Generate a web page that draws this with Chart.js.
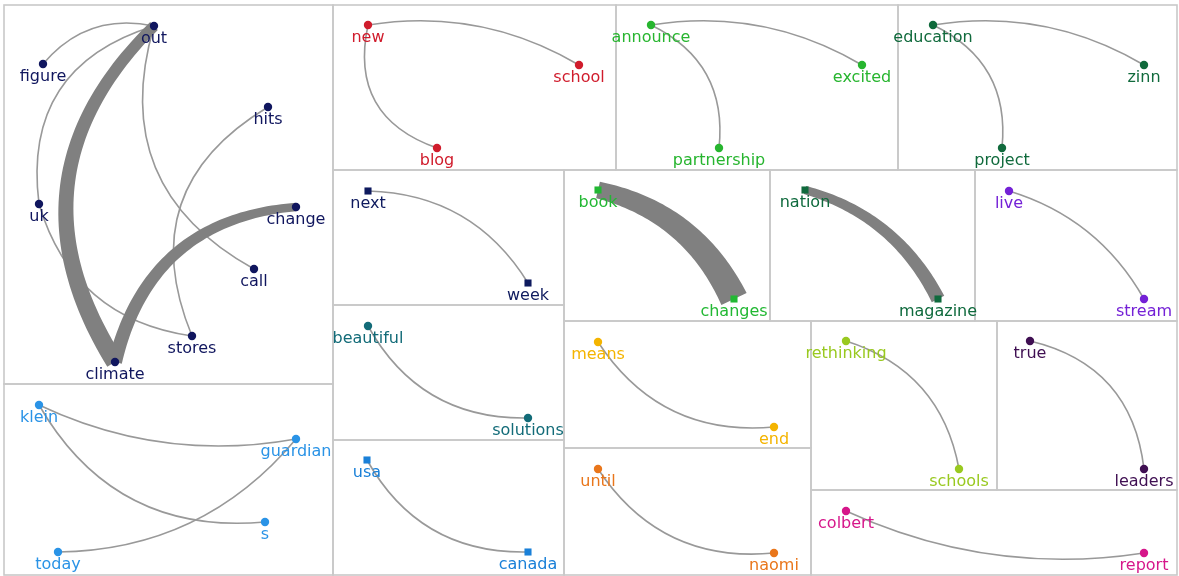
<!DOCTYPE html>
<html>
<head>
<meta charset="utf-8">
<script src="https://cdn.jsdelivr.net/npm/chart.js@4.4.0/dist/chart.umd.min.js"></script>
<style>
  html, body { margin: 0; padding: 0; background: #fff; overflow: hidden; }
  #wrap { width: 1179px; height: 576px; }
</style>
</head>
<body>
<div id="wrap"><canvas id="net" width="1179" height="576"></canvas></div>
<script>
// word co-occurrence clusters, one per panel
const groupNames = ["climate", "klein", "new", "announce", "education", "next", "book",
  "nation", "live", "beautiful", "usa", "means", "until", "rethinking", "true", "colbert"];

const nodeLabels = ["out", "figure", "hits", "uk", "change", "call", "stores", "climate",
  "klein", "guardian", "s", "today",
  "new", "school", "blog",
  "announce", "excited", "partnership",
  "education", "zinn", "project",
  "next", "week",
  "book", "changes",
  "nation", "magazine",
  "live", "stream",
  "beautiful", "solutions",
  "usa", "canada",
  "means", "end",
  "until", "naomi",
  "rethinking", "schools",
  "true", "leaders",
  "colbert", "report"];
const nodeGroup = [0, 0, 0, 0, 0, 0, 0, 0,
  1, 1, 1, 1,
  2, 2, 2,
  3, 3, 3,
  4, 4, 4,
  5, 5,
  6, 6,
  7, 7,
  8, 8,
  9, 9,
  10, 10,
  11, 11,
  12, 12,
  13, 13,
  14, 14,
  15, 15];
// layout position of each node
const nodeX = [154, 43, 268, 39, 296, 254, 192, 115,
  39, 296, 265, 58,
  368, 579, 437,
  651, 862, 719,
  933, 1144, 1002,
  368, 528,
  598, 734,
  805, 938,
  1009, 1144,
  368, 528,
  367, 528,
  598, 774,
  598, 774,
  846, 959,
  1030, 1144,
  846, 1144];
const nodeY = [26, 64, 107, 204, 207, 269, 336, 362,
  405, 439, 522, 552,
  25, 65, 148,
  25, 65, 148,
  25, 65, 148,
  191, 283,
  190, 299,
  190, 299,
  191, 299,
  326, 418,
  460, 552,
  342, 427,
  469, 553,
  341, 469,
  341, 469,
  511, 553];

const edgeSource = ["out", "out", "uk", "out", "hits", "out", "change",
  "klein", "klein", "today",
  "new", "new", "announce", "announce", "education", "education",
  "next", "book", "nation", "live", "beautiful", "usa",
  "means", "until", "rethinking", "true", "colbert"];
const edgeTarget = ["figure", "uk", "stores", "call", "stores", "climate", "climate",
  "guardian", "s", "guardian",
  "school", "blog", "excited", "partnership", "zinn", "project",
  "week", "changes", "magazine", "stream", "solutions", "canada",
  "end", "naomi", "schools", "leaders", "report"];
const edgeWeight = [1, 1, 1, 1, 1, 13, 10,
  1, 1, 1,
  1, 1, 1, 1, 1, 1,
  1, 20, 10, 1, 1, 1,
  1, 1, 1, 1, 1];
const edgeBend = [0.3, 0.42, 0.32, 0.4, 0.43, 0.4, 0.36,
  0.16, 0.32, 0.23,
  -0.18, 0.44, -0.18, -0.35, -0.18, -0.35,
  -0.27, -0.24, -0.22, -0.2, 0.3, 0.3,
  0.3, 0.3, -0.3, -0.35, 0.15];

// panel frames [x0, y0, x1, y1]
const panelBox = [
  [4, 5, 333, 384], [4, 384, 333, 575], [333, 5, 616, 170], [616, 5, 898, 170],
  [898, 5, 1177, 170], [333, 170, 564, 305], [564, 170, 770, 321], [770, 170, 975, 321],
  [975, 170, 1177, 321], [333, 305, 564, 440], [333, 440, 564, 575], [564, 321, 811, 448],
  [564, 448, 811, 575], [811, 321, 997, 490], [997, 321, 1177, 490], [811, 490, 1177, 575]
];

const groupColors = ["#10165e", "#2a93e6", "#d01c2c", "#27b52f", "#106a3c", "#0e1a5e",
  "#22b833", "#0f6a3d", "#7421d6", "#126b78", "#1a80d8", "#f4b400", "#e9761b",
  "#99c920", "#3f0f52", "#d6168a"];
const groupSquare = [false, false, false, false, false, true, true, true, false,
  false, true, false, false, false, false, false];

const datasets = groupNames.map((name, g) => {
  const pts = [];
  nodeLabels.forEach((lab, i) => {
    if (nodeGroup[i] === g) pts.push({ x: nodeX[i], y: nodeY[i], label: lab });
  });
  return {
    label: name,
    data: pts,
    pointStyle: groupSquare[g] ? "rect" : "circle",
    pointRadius: groupSquare[g] ? 5 : 4.2,
    backgroundColor: groupColors[g],
    borderColor: groupColors[g],
    borderWidth: 0,
    clip: false,
  };
});

const framePlugin = {
  id: "frames",
  beforeDatasetsDraw(chart) {
    const { ctx, scales: { x, y } } = chart;
    ctx.save();
    ctx.strokeStyle = "#c9c9c9";
    ctx.lineWidth = 1.6;
    panelBox.forEach((b) => {
      const x0 = x.getPixelForValue(b[0]), x1 = x.getPixelForValue(b[2]);
      const y0 = y.getPixelForValue(b[1]), y1 = y.getPixelForValue(b[3]);
      ctx.strokeRect(x0, y0, x1 - x0, y1 - y0);
    });
    ctx.restore();
  },
};

const edgePlugin = {
  id: "edges",
  beforeDatasetsDraw(chart) {
    const { ctx, scales: { x, y } } = chart;
    const order = edgeWeight.map((w, i) => i).sort((a, b) => edgeWeight[a] - edgeWeight[b]);
    ctx.save();
    order.forEach((e) => {
      const s = nodeLabels.indexOf(edgeSource[e]);
      const t = nodeLabels.indexOf(edgeTarget[e]);
      const p0 = [x.getPixelForValue(nodeX[s]), y.getPixelForValue(nodeY[s])];
      const p2 = [x.getPixelForValue(nodeX[t]), y.getPixelForValue(nodeY[t])];
      const dx = p2[0] - p0[0], dy = p2[1] - p0[1];
      const d = Math.hypot(dx, dy);
      const c = [(p0[0] + p2[0]) / 2 - (dy / d) * edgeBend[e] * d,
                 (p0[1] + p2[1]) / 2 + (dx / d) * edgeBend[e] * d];
      if (edgeWeight[e] <= 1) {
        ctx.strokeStyle = "#999999";
        ctx.lineWidth = 1.6;
        ctx.beginPath();
        ctx.moveTo(p0[0], p0[1]);
        ctx.quadraticCurveTo(c[0], c[1], p2[0], p2[1]);
        ctx.stroke();
        return;
      }
      // tapered band, wider towards the target word
      const wEnd = edgeWeight[e] * 1.4;
      const left = [], right = [];
      const N = 60;
      for (let k = 0; k <= N; k++) {
        const u = k / N;
        const px = (1 - u) * (1 - u) * p0[0] + 2 * (1 - u) * u * c[0] + u * u * p2[0];
        const py = (1 - u) * (1 - u) * p0[1] + 2 * (1 - u) * u * c[1] + u * u * p2[1];
        const tx = 2 * (1 - u) * (c[0] - p0[0]) + 2 * u * (p2[0] - c[0]);
        const ty = 2 * (1 - u) * (c[1] - p0[1]) + 2 * u * (p2[1] - c[1]);
        const tl = Math.hypot(tx, ty);
        const hw = (wEnd * (0.6 + 0.4 * u)) / 2;
        left.push([px - (ty / tl) * hw, py + (tx / tl) * hw]);
        right.push([px + (ty / tl) * hw, py - (tx / tl) * hw]);
      }
      ctx.fillStyle = "#808080";
      ctx.beginPath();
      ctx.moveTo(left[0][0], left[0][1]);
      left.forEach((p) => ctx.lineTo(p[0], p[1]));
      for (let k = right.length - 1; k >= 0; k--) ctx.lineTo(right[k][0], right[k][1]);
      ctx.closePath();
      ctx.fill();
    });
    ctx.restore();
  },
};

const labelPlugin = {
  id: "wordLabels",
  afterDatasetsDraw(chart) {
    const { ctx } = chart;
    ctx.save();
    ctx.font = "16px 'DejaVu Sans'";
    ctx.textAlign = "center";
    ctx.textBaseline = "middle";
    chart.data.datasets.forEach((ds, di) => {
      const meta = chart.getDatasetMeta(di);
      ctx.fillStyle = ds.backgroundColor;
      meta.data.forEach((pt, i) => {
        ctx.fillText(ds.data[i].label, pt.x, pt.y + 12.5);
      });
    });
    ctx.restore();
  },
};

new Chart(document.getElementById("net"), {
  type: "scatter",
  data: { datasets: datasets },
  options: {
    responsive: false,
    animation: false,
    layout: { padding: 0, autoPadding: false },
    plugins: { legend: { display: false }, tooltip: { enabled: false } },
    scales: {
      x: { type: "linear", min: 0, max: 1179, display: false },
      y: { type: "linear", min: 0, max: 576, reverse: true, display: false },
    },
  },
  plugins: [framePlugin, edgePlugin, labelPlugin],
});
</script>
</body>
</html>
